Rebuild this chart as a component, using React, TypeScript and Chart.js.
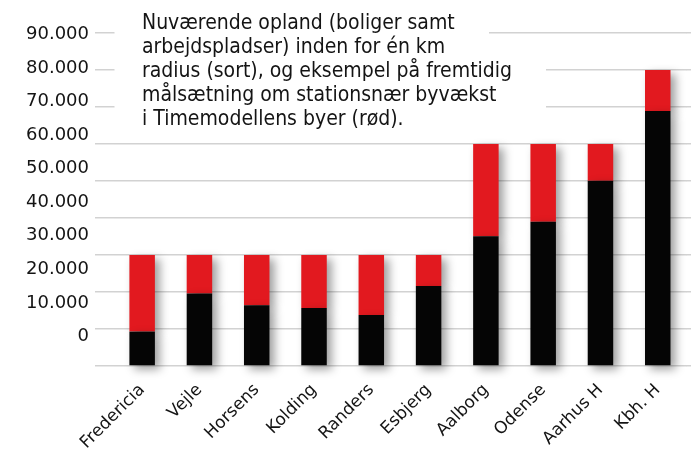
import { useEffect, useRef } from "react";
import { Chart, registerables } from "chart.js";

Chart.register(...registerables);

const CATEGORIES = [
  "Fredericia",
  "Vejle",
  "Horsens",
  "Kolding",
  "Randers",
  "Esbjerg",
  "Aalborg",
  "Odense",
  "Aarhus H",
  "Kbh. H",
];
// Current catchment (black)
const CURRENT = [9300, 19600, 16400, 15700, 13800, 21600, 35100, 39000, 50100, 68900];
// Future target total (top of red)
const TARGET = [30000, 30000, 30000, 30000, 30000, 30000, 60000, 60000, 60000, 80000];
const EXTRA = TARGET.map((t, i) => t - CURRENT[i]);

const TICK_VALUES = [0, 10000, 20000, 30000, 40000, 50000, 60000, 70000, 80000, 90000];
const AXIS_MAX = 90000;
// calibration of the (mis-spaced) printed tick labels
const LABEL_AXIS_MIN = -8800;
const LABEL_AXIS_MAX = 90450;

const TITLE_LINES = [
  "Nuværende opland (boliger samt",
  "arbejdspladser) inden for én km",
  "radius (sort), og eksempel på fremtidig",
  "målsætning om stationsnær byvækst",
  "i Timemodellens byer (rød).",
];

const fmt = (v: number) => (v === 0 ? "0" : `${Math.round(v / 1000)}.000`);

const setTicks = (axis: any) => {
  axis.ticks = TICK_VALUES.map((v) => ({ value: v }));
};

const overlayPlugin = {
  id: "overlayPlugin",
  beforeDatasetsDraw(chart: any) {
    const ctx = chart.ctx as CanvasRenderingContext2D;
    const left = chart.chartArea.left;
    ctx.save();
    ctx.fillStyle = "#ffffff";
    ctx.fillRect(left + 1, 0, 488 - left, 50);
    ctx.fillRect(left + 1, 50, 545 - left, 76);
    ctx.fillStyle = "#141414";
    ctx.font = "21px 'Liberation Sans Narrow', 'DejaVu Sans Condensed', 'DejaVu Sans', sans-serif";
    ctx.textBaseline = "alphabetic";
    ctx.textAlign = "left";
    TITLE_LINES.forEach((t, i) => ctx.fillText(t, 142, 29 + 24 * i));
    ctx.restore();
    ctx.save();
    ctx.shadowColor = "rgba(0,0,0,0.38)";
    ctx.shadowBlur = 10;
    ctx.shadowOffsetX = 5;
    ctx.shadowOffsetY = 4;
  },
  afterDatasetsDraw(chart: any) {
    chart.ctx.restore();
  },
};

export default function App() {
  const ref = useRef<HTMLCanvasElement | null>(null);
  useEffect(() => {
    if (!ref.current) return;
    const chart = new Chart(ref.current, {
      type: "bar",
      data: {
        labels: CATEGORIES,
        datasets: [
          {
            label: "Nuværende",
            data: CURRENT,
            backgroundColor: "#050505",
            barPercentage: 0.445,
            categoryPercentage: 1,
            clip: false as any,
            yAxisID: "y",
          },
          {
            label: "Målsætning",
            data: EXTRA,
            backgroundColor: "#e2191f",
            barPercentage: 0.445,
            categoryPercentage: 1,
            clip: false as any,
            yAxisID: "y",
          },
        ],
      },
      options: {
        animation: false,
        responsive: true,
        maintainAspectRatio: false,
        layout: { padding: { top: 33, left: 0, right: 0, bottom: 0 } },
        plugins: {
          legend: { display: false },
          tooltip: { enabled: false },
          title: { display: false },
        },
        scales: {
          x: {
            stacked: true,
            offset: true,
            grid: { display: false },
            border: { display: false },
            ticks: {
              autoSkip: false,
              minRotation: 45,
              maxRotation: 45,
              padding: 6,
              color: "#141414",
              font: { family: "'DejaVu Sans', sans-serif", size: 17 },
            },
            afterFit: (axis: any) => {
              axis.height = 86;
            },
          },
          y: {
            stacked: true,
            position: "left",
            weight: 0,
            min: 0,
            max: AXIS_MAX,
            afterBuildTicks: setTicks,
            ticks: { display: false },
            grid: {
              color: "#d2d2d2",
              lineWidth: 1.5,
              drawTicks: true,
              tickLength: 18.5,
            },
            border: { display: false },
            afterFit: (axis: any) => {
              axis.width = 18.5;
            },
          },
          yLabels: {
            position: "left",
            weight: 1,
            min: LABEL_AXIS_MIN,
            max: LABEL_AXIS_MAX,
            afterBuildTicks: setTicks,
            grid: { display: false, drawTicks: false },
            border: { display: false },
            ticks: {
              padding: 6,
              color: "#141414",
              font: { family: "'DejaVu Sans', sans-serif", size: 18 },
              callback: (v: any) => fmt(Number(v)),
            },
            afterFit: (axis: any) => {
              axis.width = 95;
            },
          },
          yRight: {
            position: "right",
            min: 0,
            max: AXIS_MAX,
            afterBuildTicks: setTicks,
            ticks: { display: false },
            grid: {
              color: "#d2d2d2",
              lineWidth: 1.5,
              drawOnChartArea: false,
              drawTicks: true,
              tickLength: 5,
            },
            border: { display: false },
            afterFit: (axis: any) => {
              axis.width = 4.6;
            },
          },
        },
      },
      plugins: [overlayPlugin],
    });
    return () => chart.destroy();
  }, []);

  return (
    <div style={{ position: "fixed", left: 0, top: 0, width: 691, height: 452, background: "#fff" }}>
      <canvas ref={ref} />
    </div>
  );
}
